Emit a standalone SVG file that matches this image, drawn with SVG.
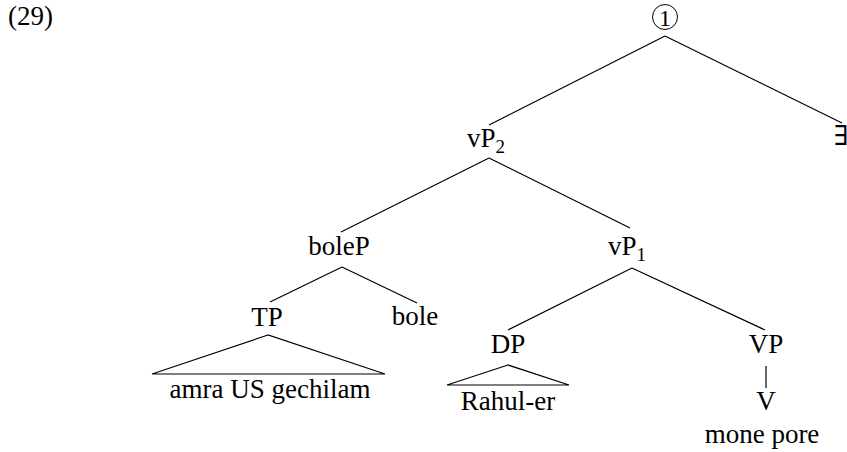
<svg xmlns="http://www.w3.org/2000/svg" width="847" height="452" viewBox="0 0 847 452">
  <style>
    text { font-family: "Liberation Serif", "DejaVu Serif", serif; font-size: 27px; fill: #000; }
    .c { text-anchor: middle; }
    .sub { font-size: 19px; }
    .edge { stroke: #000; stroke-width: 1.2; fill: none; }
  </style>
  <rect width="847" height="452" fill="#fff"/>

  <text id="ex-number" x="8" y="25">(29)</text>

  <!-- tree branches and the two roof triangles -->
  <g id="connectors">
    <line class="edge" x1="665" y1="36" x2="489" y2="125"/>
    <line class="edge" x1="665" y1="36" x2="842" y2="123"/>
    <line class="edge" x1="489" y1="158" x2="341" y2="232"/>
    <line class="edge" x1="489" y1="158" x2="630" y2="228"/>
    <line class="edge" x1="342" y1="267" x2="270" y2="302"/>
    <line class="edge" x1="342" y1="267" x2="417" y2="303"/>
    <line class="edge" x1="632" y1="268" x2="508" y2="330"/>
    <line class="edge" x1="632" y1="268" x2="765" y2="330"/>
    <line class="edge" x1="766" y1="366" x2="766" y2="388"/>
    <polygon class="edge" points="268,335 152,374 385,374"/>
    <polygon class="edge" points="508,365 447,385 569,385"/>
  </g>

  <g id="root">
    <circle cx="665" cy="17" r="12.5" fill="none" stroke="#000" stroke-width="1"/>
    <text class="c" x="665" y="26" style="font-size:24px">1</text>
  </g>
  <g id="exists"><text x="834" y="145">∃</text></g>
  <g id="vP2"><text x="467" y="147">vP<tspan class="sub" dy="6">2</tspan></text></g>
  <g id="boleP"><text class="c" x="339" y="255">boleP</text></g>
  <g id="vP1"><text x="608" y="255">vP<tspan class="sub" dy="6">1</tspan></text></g>
  <g id="TP"><text class="c" x="267" y="326">TP</text></g>
  <g id="bole"><text class="c" x="415" y="325">bole</text></g>
  <g id="DP"><text class="c" x="508" y="353">DP</text></g>
  <g id="VP"><text class="c" x="766" y="353">VP</text></g>
  <g id="TP-yield"><text class="c" x="270" y="398">amra US gechilam</text></g>
  <g id="DP-yield"><text class="c" x="508" y="410">Rahul-er</text></g>
  <g id="V"><text class="c" x="766" y="410">V</text></g>
  <g id="V-yield"><text class="c" x="762" y="443">mone pore</text></g>
</svg>
